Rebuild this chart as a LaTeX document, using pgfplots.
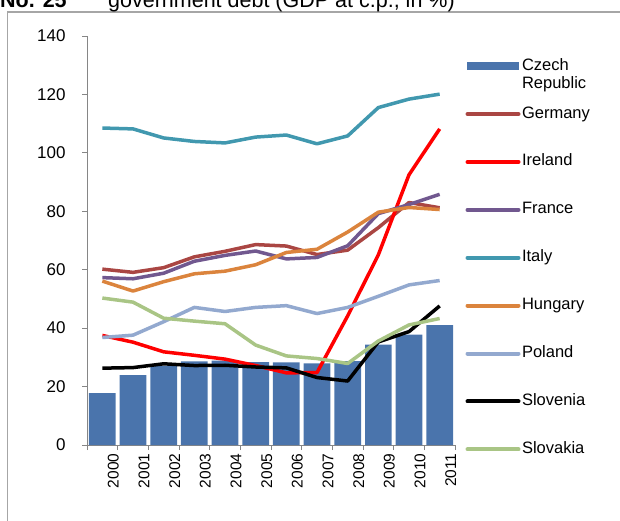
\documentclass[border=0pt]{standalone}
\usepackage{pgfplots}
\pgfplotsset{compat=1.18}
\usepackage{fontspec}
\setmainfont{Liberation Sans}
\definecolor{czb}{HTML}{4A74AC}
\definecolor{deu}{HTML}{AA4643}
\definecolor{irl}{HTML}{FF0000}
\definecolor{fra}{HTML}{71588F}
\definecolor{ita}{HTML}{4198AF}
\definecolor{hun}{HTML}{DB843D}
\definecolor{pol}{HTML}{93A9CF}
\definecolor{svn}{HTML}{000000}
\definecolor{svk}{HTML}{A9C585}
\definecolor{axgray}{HTML}{868686}
\begin{document}
\begin{tikzpicture}
\useasboundingbox (0pt,0pt) rectangle (620pt,520pt);
\draw[gray!70, line width=1.6pt] (7.5pt,-20pt) -- (7.5pt,508pt) -- (640pt,508pt);
\node[anchor=base west, inner sep=0pt, font=\fontsize{21.5}{24}\selectfont\bfseries] at (0pt,512.5pt) {No. 25};
\node[anchor=base west, inner sep=0pt, font=\fontsize{21.5}{24}\selectfont] at (108pt,512.5pt) {government debt (GDP at c.p., in \%)};
\begin{axis}[
  at={(87pt,75pt)}, anchor=south west,
  scale only axis, width=368pt, height=409pt,
  xmin=-0.5, xmax=11.5, ymin=0, ymax=140,
  axis x line*=bottom, axis y line*=left,
  axis line style={axgray, line width=0.8pt},
  every tick/.style={axgray, line width=0.8pt},
  tick align=outside, major tick length=5pt,
  ytick={0,20,...,140},
  xtick={-0.5,0.5,...,11.5},
  x tick label as interval,
  xticklabels={2000,2001,2002,2003,2004,2005,2006,2007,2008,2009,2010,2011},
  xticklabel style={rotate=90, anchor=east, yshift=-11pt, font=\fontsize{15.5}{18}\selectfont},
  yticklabel style={xshift=-13pt, font=\fontsize{17}{20}\selectfont},
  /pgf/number format/assume math mode=true,
  clip=false,
  legend cell align=left,
  legend style={at={(1.028,0.95)}, anchor=north west, draw=none, fill=none,
    font=\fontsize{16.5}{17}\selectfont, row sep=28.9pt, inner sep=0pt,
    nodes={inner sep=1.5pt, text height=12pt, text depth=4pt, xshift=2pt}},
  legend image code/.code={\draw[#1, line width=4pt, line cap=round] (0pt,0pt) -- (51pt,0pt);},
  every axis plot/.append style={line width=3.5pt, line join=round},
]
\addplot[ybar, bar width=0.87, fill=czb, draw=none, line width=0pt,
  legend image code/.code={\fill[czb] (-1pt,-4pt) rectangle (51pt,4pt);}]
  coordinates {(0,17.8) (1,23.9) (2,27.1) (3,28.6) (4,28.9) (5,28.4) (6,28.3) (7,27.9) (8,28.7) (9,34.4) (10,37.8) (11,41.0)};
\addlegendentry{\smash{\makebox[0pt][l]{\raisebox{-18pt}{Republic}}}Czech}
\addplot[deu] coordinates {(0,60.2) (1,59.1) (2,60.7) (3,64.4) (4,66.3) (5,68.6) (6,68.1) (7,65.2) (8,66.7) (9,74.4) (10,83.0) (11,81.2)};
\addlegendentry{Germany}
\addplot[irl] coordinates {(0,37.5) (1,35.2) (2,31.9) (3,30.7) (4,29.4) (5,27.2) (6,24.7) (7,24.8) (8,44.2) (9,65.1) (10,92.5) (11,108.2)};
\addlegendentry{Ireland}
\addplot[fra] coordinates {(0,57.3) (1,56.9) (2,58.8) (3,62.9) (4,64.9) (5,66.4) (6,63.7) (7,64.2) (8,68.2) (9,79.2) (10,82.3) (11,85.8)};
\addlegendentry{France}
\addplot[ita] coordinates {(0,108.5) (1,108.2) (2,105.1) (3,103.9) (4,103.4) (5,105.4) (6,106.1) (7,103.1) (8,105.8) (9,115.5) (10,118.4) (11,120.1)};
\addlegendentry{Italy}
\addplot[hun] coordinates {(0,56.1) (1,52.7) (2,55.9) (3,58.6) (4,59.5) (5,61.7) (6,65.9) (7,67.0) (8,72.9) (9,79.7) (10,81.3) (11,80.6)};
\addlegendentry{Hungary}
\addplot[pol] coordinates {(0,36.8) (1,37.6) (2,42.2) (3,47.1) (4,45.7) (5,47.1) (6,47.7) (7,45.0) (8,47.1) (9,50.9) (10,54.8) (11,56.3)};
\addlegendentry{Poland}
\addplot[svn] coordinates {(0,26.3) (1,26.5) (2,27.8) (3,27.2) (4,27.3) (5,26.7) (6,26.4) (7,23.1) (8,21.9) (9,35.3) (10,38.8) (11,47.6)};
\addlegendentry{Slovenia}
\addplot[svk] coordinates {(0,50.3) (1,48.9) (2,43.4) (3,42.4) (4,41.5) (5,34.2) (6,30.5) (7,29.6) (8,27.9) (9,35.6) (10,41.1) (11,43.3)};
\addlegendentry{Slovakia}
\end{axis}
\end{tikzpicture}
\end{document}
